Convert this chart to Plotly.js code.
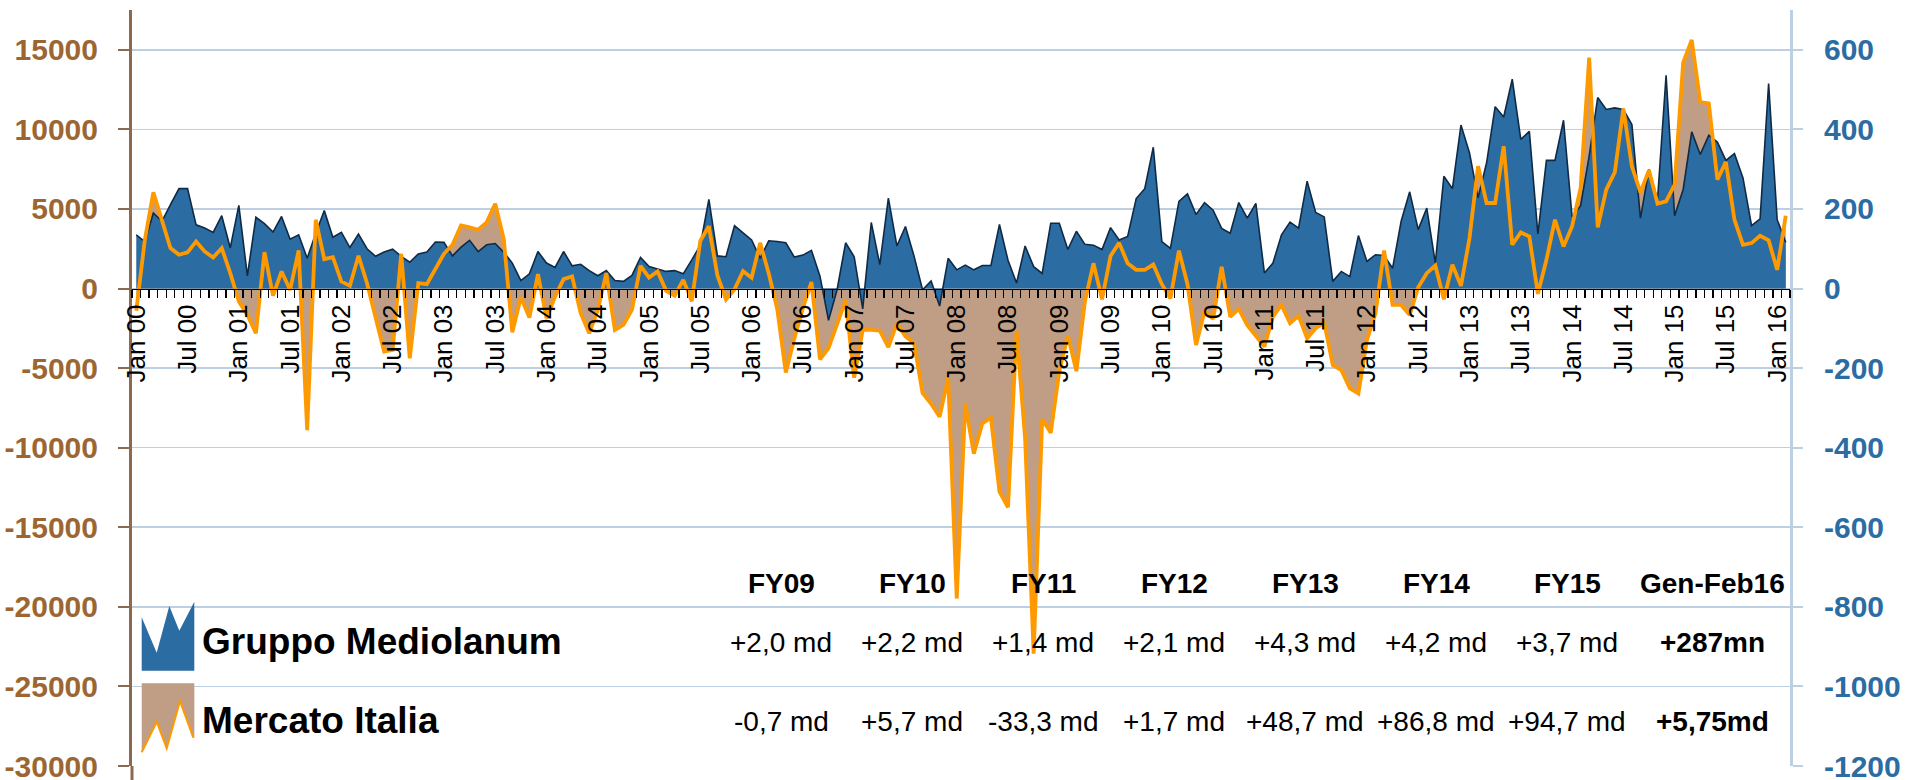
<!DOCTYPE html>
<html>
<head>
<meta charset="utf-8">
<script src="https://cdn.plot.ly/plotly-3.0.1.min.js"></script>
<style>
  html, body { margin: 0; padding: 0; background: #ffffff; }
  #chart { width: 1907px; height: 780px; }
</style>
</head>
<body>
<div id="chart"></div>
<script>
// ---------------- DATA ----------------
// Monthly categories Jan 2000 .. Feb 2016
const monthNames = ["Jan","Feb","Mar","Apr","May","Jun","Jul","Aug","Sep","Oct","Nov","Dec"];
const years = ["00","01","02","03","04","05","06","07","08","09","10","11","12","13","14","15","16"];
const months = [];
years.forEach(function (y) { monthNames.forEach(function (m) { months.push(m + " " + y); }); });
months.length = 194; // Jan 00 .. Feb 16

// Gruppo Mediolanum monthly net inflows (EUR mn, right axis)
const mediolanum = [
  135,118,190,169,211,251,251,160,152,141,183,102,
  209,32,179,163,142,181,124,135,76,139,196,129,
  141,103,137,100,81,92,99,81,66,87,92,117,
  116,82,104,121,93,110,113,91,64,20,37,93,
  64,53,93,57,61,45,32,45,20,18,33,78,
  55,49,43,45,37,72,109,224,82,80,158,140,
  122,76,120,118,115,79,84,96,31,-80,-3,115,
  80,-51,166,60,227,107,156,82,-3,19,-44,76,
  47,59,47,58,58,161,71,14,107,55,38,164,
  164,98,144,111,109,98,153,122,131,226,251,355,
  118,101,219,238,186,216,197,151,139,216,177,214,
  39,64,135,167,152,270,191,180,18,43,30,133,
  68,85,83,51,169,243,148,202,64,282,251,411,
  341,228,316,457,431,526,375,395,137,322,322,423,
  180,208,333,480,450,454,450,412,177,299,223,536,
  183,249,394,337,385,368,322,339,278,158,175,515,
  173,116
];

// Mercato Italia monthly net flows (EUR mn, left axis)
const mercato = [
  -1400,3065,6045,4219,2540,2120,2267,2960,2330,1952,2540,966,
  -819,-1658,-2813,2288,-441,1070,-84,2393,-8900,4324,1847,1973,
  441,168,2057,336,-1763,-3967,-3862,2183,-4387,336,273,1280,
  2183,2750,3967,3841,3694,4156,5331,3107,-2750,-546,-1826,903,
  -1868,-504,588,756,-1553,-2813,-1343,966,-2603,-2288,-1343,1427,
  693,1070,-147,-441,546,-800,3005,3907,820,-683,-55,1093,
  683,2869,956,-1284,-5273,-3142,-1229,410,-4453,-3743,-2322,-738,
  -5601,-2595,-2595,-2650,-3688,-2186,-3005,-3415,-6557,-7240,-8059,-5601,
  -19479,-7240,-10382,-8469,-8114,-12758,-13742,-2650,-9425,-22949,-8196,-9070,
  -5191,-2951,-5191,-820,1585,-683,2049,2869,1585,1175,1175,1503,
  273,-628,2377,273,-3552,-1421,-1912,1366,-1776,-1284,-2300,-3000,
  -3652,-1763,-1029,-2183,-1721,-3128,-2498,-2141,-4807,-5122,-6276,-6591,
  -3232,-1553,2393,-1029,-1029,-1658,84,966,1448,-672,1490,168,
  3169,7682,5373,5373,8942,2750,3526,3270,-336,1805,4324,2645,
  3904,6318,14504,3841,6213,7305,11314,7682,6045,7431,5331,5478,
  6528,14189,15617,11712,11628,6843,7955,4324,2750,2855,3316,3023,
  1175,4576
];

// Tick labels (every six months)
const tickLabels = ["Jan 00","Jul 00","Jan 01","Jul 01","Jan 02","Jul 02","Jan 03","Jul 03",
  "Jan 04","Jul 04","Jan 05","Jul 05","Jan 06","Jul 06","Jan 07","Jul 07","Jan 08","Jul 08",
  "Jan 09","Jul 09","Jan 10","Jul 10","Jan 11","Jul 11","Jan 12","Jul 12","Jan 13","Jul 13",
  "Jan 14","Jul 14","Jan 15","Jul 15","Jan 16"];
const leftTicks = [-30000,-25000,-20000,-15000,-10000,-5000,0,5000,10000,15000];
const rightTicks = [-1200,-1000,-800,-600,-400,-200,0,200,400,600];

// Summary table
const periods = ["FY09","FY10","FY11","FY12","FY13","FY14","FY15","Gen-Feb16"];
const totMediolanum = ["+2,0 md","+2,2 md","+1,4 md","+2,1 md","+4,3 md","+4,2 md","+3,7 md","+287mn"];
const totMercato = ["-0,7 md","+5,7 md","-33,3 md","+1,7 md","+48,7 md","+86,8 md","+94,7 md","+5,75md"];
const seriesNames = ["Gruppo Mediolanum","Mercato Italia"];

const leftRange = [-30000, 17500];
const rightRange = [-1200, 700];

// ---------------- LAYOUT HELPERS ----------------
const W = 1907, H = 780;
const M = { l: 132, r: 117, t: 10, b: 14 };
const PW = W - M.l - M.r, PH = H - M.t - M.b;
function px(x) { return (x - M.l) / PW; }
function py(y) { return (H - M.b - y) / PH; }
function pt(x, y) { return px(x).toFixed(5) + "," + py(y).toFixed(5); }

const idx = months.map(function (_, i) { return i; });
const tickvals = [];
const ticktext = [];
months.forEach(function (m, i) { if (tickLabels.indexOf(m) >= 0) { tickvals.push(i); ticktext.push(m); } });

const BLUE = "#2B6CA3", NAVY = "#0F2A45", TAN = "#C09E86", ORANGE = "#FF9900";
const GRID = "#BDD0E3", BROWN_LINE = "#8C6A4F", BROWN_TXT = "#9C6633", BLUE_TXT = "#2B6CA3";
const SANS = "Liberation Sans, Arial, sans-serif";

const traces = [
  { // tan area of Mercato Italia (bottom layer)
    x: idx, y: mercato, type: "scatter", mode: "lines", yaxis: "y",
    fill: "tozeroy", fillcolor: TAN, line: { width: 0, color: TAN }, hoverinfo: "skip", showlegend: false
  },
  { // blue area Gruppo Mediolanum
    x: idx, y: mediolanum, type: "scatter", mode: "lines", yaxis: "y2",
    fill: "tozeroy", fillcolor: BLUE, line: { width: 1.6, color: NAVY }, hoverinfo: "skip", showlegend: false
  },
  { // orange line Mercato Italia (top layer)
    x: idx, y: mercato, type: "scatter", mode: "lines", yaxis: "y3",
    line: { width: 3.8, color: ORANGE, join: "miter" }, hoverinfo: "skip", showlegend: false
  }
];

const annotations = [];
const colX = [781, 912, 1043, 1174, 1305, 1436, 1567, 1712];
const TS = 28;
periods.forEach(function (p, i) {
  const last = i === periods.length - 1;
  annotations.push({ xref: "paper", yref: "paper", x: px(colX[i]), y: py(593 - 0.35 * TS), xanchor: "center", yanchor: "middle",
    text: p, showarrow: false, font: { family: SANS, size: TS, color: "#000", weight: "bold" } });
  annotations.push({ xref: "paper", yref: "paper", x: px(colX[i]), y: py(652 - 0.35 * TS), xanchor: "center", yanchor: "middle",
    text: totMediolanum[i], showarrow: false, font: { family: SANS, size: TS, color: "#000", weight: last ? "bold" : "normal" } });
  annotations.push({ xref: "paper", yref: "paper", x: px(colX[i]), y: py(731 - 0.35 * TS), xanchor: "center", yanchor: "middle",
    text: totMercato[i], showarrow: false, font: { family: SANS, size: TS, color: "#000", weight: last ? "bold" : "normal" } });
});
annotations.push({ xref: "paper", yref: "paper", x: px(200), y: py(654 - 0.35 * 37), xanchor: "left", yanchor: "middle",
  text: seriesNames[0], showarrow: false, font: { family: SANS, size: 37, color: "#000", weight: "bold" } });
annotations.push({ xref: "paper", yref: "paper", x: px(200), y: py(733 - 0.35 * 37), xanchor: "left", yanchor: "middle",
  text: seriesNames[1], showarrow: false, font: { family: SANS, size: 37, color: "#000", weight: "bold" } });

const shapes = [
  { type: "path", xref: "paper", yref: "paper", layer: "above", line: { width: 0 }, fillcolor: BLUE,
    path: "M" + pt(141.7, 617.3) + "L" + pt(156.7, 652.7) + "L" + pt(169.3, 606) + "L" + pt(179.3, 630.7) +
          "L" + pt(194.3, 601.7) + "L" + pt(194.3, 670.7) + "L" + pt(141.7, 670.7) + "Z" },
  { type: "path", xref: "paper", yref: "paper", layer: "above", line: { width: 0 }, fillcolor: TAN,
    path: "M" + pt(141.7, 683.3) + "L" + pt(194.3, 683.3) + "L" + pt(194.3, 737.7) + "L" + pt(193.3, 737.7) +
          "L" + pt(180, 701) + "L" + pt(166.7, 748.3) + "L" + pt(156.7, 721.7) + "L" + pt(141.7, 752.3) + "Z" },
  { type: "path", xref: "paper", yref: "paper", layer: "above", line: { width: 2, color: ORANGE },
    path: "M" + pt(141.7, 752.3) + "L" + pt(156.7, 721.7) + "L" + pt(166.7, 748.3) + "L" + pt(180, 701) + "L" + pt(193.3, 737.7) },
  // left axis line continues to the bottom edge
  { type: "line", xref: "paper", yref: "paper", layer: "above", x0: 0, x1: 0, y0: 0, y1: py(780),
    line: { width: 3, color: BROWN_LINE } }
];

const layout = {
  width: W, height: H,
  margin: M,
  paper_bgcolor: "#ffffff", plot_bgcolor: "#ffffff",
  showlegend: false,
  xaxis: {
    type: "linear", range: [-0.5, months.length - 0.5],
    anchor: "free", position: -leftRange[0] / (leftRange[1] - leftRange[0]),
    tickmode: "array", tickvals: tickvals, ticktext: ticktext, tickangle: -90,
    ticks: "", showline: true, linecolor: "#000000", linewidth: 1.5,
    showgrid: false, zeroline: false,
    tickfont: { family: SANS, size: 26, color: "#000000" },
    ticklabelstandoff: 4,
    minor: { tickmode: "linear", tick0: -0.5, dtick: 1, ticks: "outside", ticklen: 8, tickwidth: 1.3, tickcolor: "#000000", showgrid: false }
  },
  yaxis: {
    range: leftRange, tickmode: "array", tickvals: leftTicks, ticktext: leftTicks.map(String),
    showgrid: true, gridcolor: GRID, gridwidth: 1.6, zeroline: false,
    showline: true, linecolor: BROWN_LINE, linewidth: 3,
    ticks: "outside", ticklen: 11, tickwidth: 2, tickcolor: BROWN_LINE,
    tickfont: { family: SANS, size: 30, color: BROWN_TXT, weight: "bold" },
    ticklabelstandoff: 14, ticklabeloverflow: "allow"
  },
  yaxis2: {
    overlaying: "y", side: "right", range: rightRange, tickmode: "array", tickvals: rightTicks, ticktext: rightTicks.map(String),
    showgrid: false, zeroline: false,
    showline: true, linecolor: GRID, linewidth: 3,
    ticks: "outside", ticklen: 10, tickwidth: 2, tickcolor: GRID,
    tickfont: { family: SANS, size: 30, color: BLUE_TXT, weight: "bold" },
    ticklabelstandoff: 15, ticklabeloverflow: "allow"
  },
  yaxis3: { overlaying: "y", range: leftRange, visible: false, showgrid: false, zeroline: false },
  annotations: annotations,
  shapes: shapes
};

Plotly.newPlot("chart", traces, layout, { staticPlot: true, displayModeBar: false });
</script>
</body>
</html>
